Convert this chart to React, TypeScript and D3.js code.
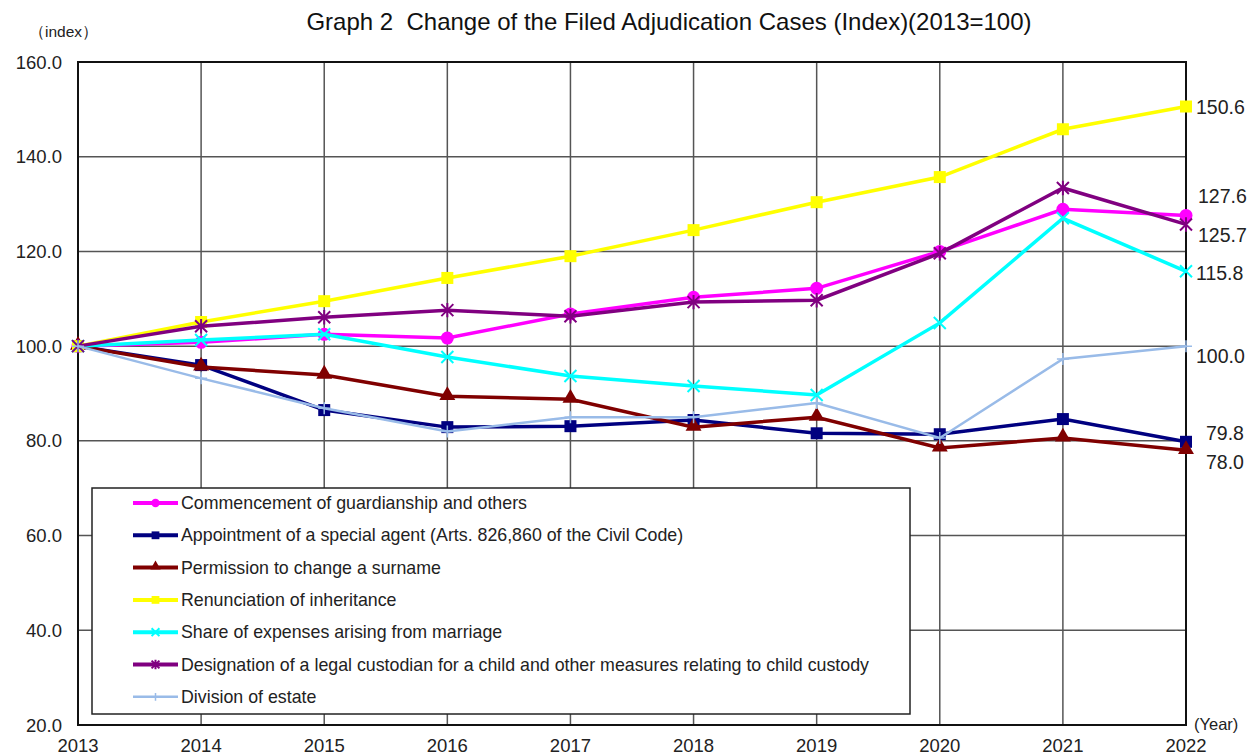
import * as React from "react"
import * as d3 from "d3"

const years = [2013, 2014, 2015, 2016, 2017, 2018, 2019, 2020, 2021, 2022]
const yTicks = [20, 40, 60, 80, 100, 120, 140, 160]

const guardianship = [100, 100.8, 102.5, 101.7, 106.8, 110.3, 112.2, 120.0, 128.9, 127.6]
const specialAgent = [100, 96.0, 86.5, 82.9, 83.1, 84.4, 81.6, 81.4, 84.6, 79.8]
const surname = [100, 95.6, 93.9, 89.4, 88.8, 82.9, 85.0, 78.5, 80.6, 78.0]
const renunciation = [100, 105.1, 109.5, 114.4, 119.0, 124.5, 130.4, 135.7, 145.8, 150.6]
const marriageExpenses = [100, 101.3, 102.5, 97.7, 93.7, 91.6, 89.7, 104.9, 127.0, 115.8]
const custodian = [100, 104.2, 106.1, 107.6, 106.3, 109.3, 109.7, 119.6, 133.4, 125.7]
const estate = [100, 93.2, 86.9, 82.0, 85.0, 85.0, 88.0, 80.6, 97.3, 100.0]

const seriesNames = [
  "Commencement of guardianship and others",
  "Appointment of a special agent (Arts. 826,860 of the Civil Code)",
  "Permission to change a surname",
  "Renunciation of inheritance",
  "Share of expenses arising from marriage",
  "Designation of a legal custodian for a child and other measures relating to child custody",
  "Division of estate",
]
const seriesValues = [guardianship, specialAgent, surname, renunciation, marriageExpenses, custodian, estate]
const seriesColors = ["#ff00ff", "#000080", "#800000", "#ffff00", "#00ffff", "#800080", "#99bbe8"]
const seriesMarkers = ["circle", "square", "triangle", "square", "x", "star", "plus"]
const endLabels = ["127.6", "79.8", "78.0", "150.6", "115.8", "125.7", "100.0"]
const endLabelPos = [[1198, 196], [1206, 433], [1206, 462], [1196, 107], [1196, 273], [1198, 235], [1196, 356]]

const W = 1251
const H = 756
const left = 78, right = 1186, top = 62, bottom = 725
const font = "'Liberation Sans', Arial, sans-serif"

function Marker({ kind, x, y, color, s = 1 }: { kind: string; x: number; y: number; color: string; s?: number }) {
  if (kind === "circle") return <circle cx={x} cy={y} r={6.5 * s} fill={color} />
  if (kind === "square") return <rect x={x - 6 * s} y={y - 6 * s} width={12 * s} height={12 * s} fill={color} />
  if (kind === "triangle") {
    const p = d3.symbol(d3.symbolTriangle, 110 * s * s)()
    return <path d={p || ""} transform={`translate(${x},${y - 1})`} fill={color} />
  }
  const r = 6 * s
  if (kind === "x")
    return <path d={`M${x - r},${y - r}L${x + r},${y + r}M${x - r},${y + r}L${x + r},${y - r}`} stroke={color} strokeWidth={2} />
  if (kind === "star")
    return (
      <path
        d={`M${x - r},${y - r}L${x + r},${y + r}M${x - r},${y + r}L${x + r},${y - r}M${x},${y - r * 1.2}L${x},${y + r * 1.2}`}
        stroke={color}
        strokeWidth={2}
      />
    )
  return <path d={`M${x - r},${y}L${x + r},${y}M${x},${y - r}L${x},${y + r}`} stroke={color} strokeWidth={1.5} />
}

export default function App() {
  const x = d3.scaleLinear().domain([2013, 2022]).range([left, right])
  const y = d3.scaleLinear().domain([20, 160]).range([bottom, top])
  const line = d3
    .line<number>()
    .x((_, i) => x(years[i]))
    .y((d) => y(d))

  return (
    <svg width={W} height={H} style={{ position: "absolute", left: 0, top: 0, background: "#fff" }} fontFamily={font}>
      <text x={669} y={30} textAnchor="middle" fontSize={24} fill="#111">
        Graph 2{"\u00a0\u00a0"}Change of the Filed Adjudication Cases (Index)(2013=100)
      </text>
      <text x={29} y={37} fontSize={15.5} fill="#222">（index）</text>

      {/* grid */}
      {yTicks.map((t) => (
        <line key={"h" + t} x1={left} x2={right} y1={y(t)} y2={y(t)} stroke="#555" strokeWidth={1.5} />
      ))}
      {years.map((yr) => (
        <line key={"v" + yr} x1={x(yr)} x2={x(yr)} y1={top} y2={bottom} stroke="#555" strokeWidth={1.5} />
      ))}
      <rect x={left} y={top} width={right - left} height={bottom - top} fill="none" stroke="#111" strokeWidth={2} />

      {yTicks.map((t) => (
        <text key={"yl" + t} x={62} y={y(t) + 6.5} textAnchor="end" fontSize={18.5} fill="#222">
          {t.toFixed(1)}
        </text>
      ))}
      {years.map((yr) => (
        <text key={"xl" + yr} x={x(yr)} y={752} textAnchor="middle" fontSize={18.5} fill="#222">
          {yr}
        </text>
      ))}
      <text x={1194} y={730} fontSize={16.5} fill="#222">(Year)</text>

      {/* series */}
      {seriesValues.map((vals, si) => (
        <g key={"s" + si}>
          <path d={line(vals) || ""} fill="none" stroke={seriesColors[si]} strokeWidth={si === 6 ? 2.5 : 3.5} />
          {vals.map((v, i) => (
            <Marker key={i} kind={seriesMarkers[si]} x={x(years[i])} y={y(v)} color={seriesColors[si]} />
          ))}
        </g>
      ))}

      {endLabels.map((l, i) => (
        <text key={"el" + i} x={endLabelPos[i][0]} y={endLabelPos[i][1] + 7} fontSize={19.5} fill="#222">
          {l}
        </text>
      ))}

      {/* legend */}
      <rect x={92} y={488} width={818} height={226} fill="#fff" stroke="#222" strokeWidth={1.5} />
      {seriesNames.map((n, i) => {
        const ly = 503 + i * 32.3
        return (
          <g key={"lg" + i}>
            <line x1={133} x2={178} y1={ly} y2={ly} stroke={seriesColors[i]} strokeWidth={i === 6 ? 2.5 : 4} />
            <Marker kind={seriesMarkers[i]} x={155.5} y={ly} color={seriesColors[i]} s={0.65} />
            <text x={181} y={ly + 6} fontSize={17.8} fill="#222">
              {n}
            </text>
          </g>
        )
      })}
    </svg>
  )
}
